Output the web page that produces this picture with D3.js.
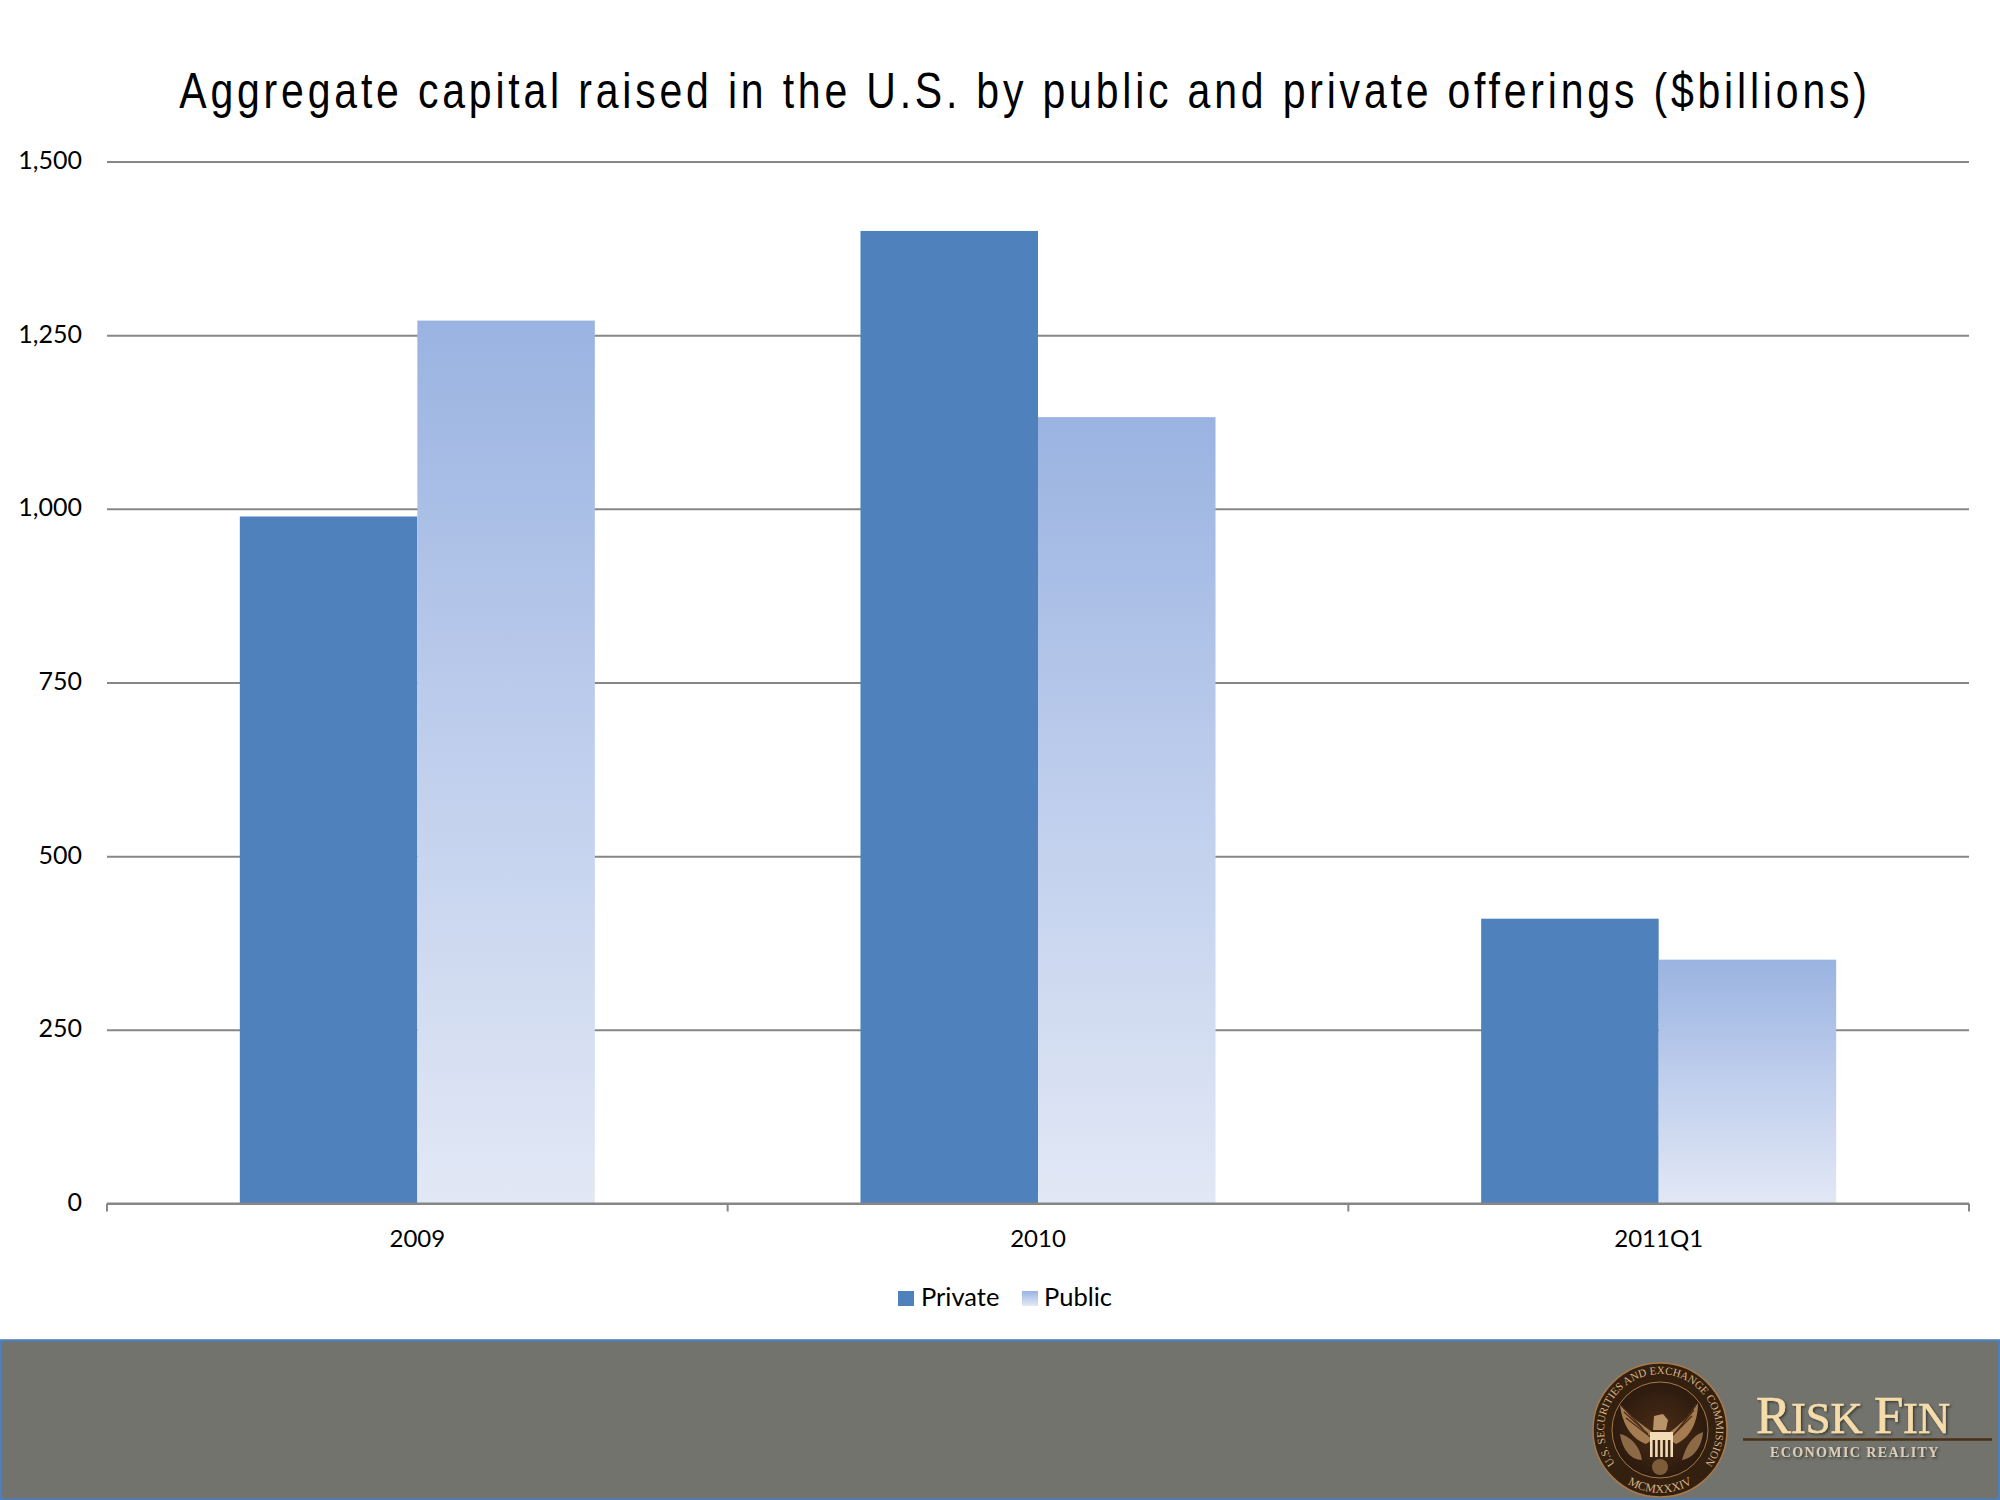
<!DOCTYPE html>
<html>
<head>
<meta charset="utf-8">
<script src="https://cdn.jsdelivr.net/npm/d3@7/dist/d3.min.js"></script>
<style>
    html, body { margin: 0; padding: 0; background: #fff; }
    svg { display: block; }
    .axisText { font-family: Lato, "Open Sans", sans-serif; font-size: 24px; fill: #000; }
</style>
</head>
<body>
<svg id="chart" width="2000" height="1500"></svg>
<script>
// values ($billions)
const categories = ["2009", "2010", "2011Q1"];
const seriesNames = ["Private", "Public"];
const privateValues = [989, 1400, 410];
const publicValues = [1271, 1132, 351];
const yTicks = [0, 250, 500, 750, 1000, 1250, 1500];
const titleText = "Aggregate capital raised in the U.S. by public and private offerings ($billions)";

const svg = d3.select("#chart");
const margin = {top: 161.5, right: 31, bottom: 296.5, left: 107};
const plotWidth = 2000 - margin.left - margin.right;
const plotHeight = 1500 - margin.top - margin.bottom;
const gridColor = "#868686";

// gradient for the public series, one copy per bar through the bounding box
const defs = svg.append("defs");
const publicGrad = defs.append("linearGradient")
    .attr("id", "publicGrad")
    .attr("x1", 0).attr("y1", 0).attr("x2", 0).attr("y2", 1);
publicGrad.append("stop").attr("offset", "0%").attr("stop-color", "#9ab3e1");
publicGrad.append("stop").attr("offset", "50%").attr("stop-color", "#c0cfed");
publicGrad.append("stop").attr("offset", "100%").attr("stop-color", "#e2e8f5");

const x0 = d3.scaleBand().domain(categories).range([0, plotWidth])
    .paddingInner(0.428).paddingOuter(0.214);
const x1 = d3.scaleBand().domain(seriesNames).range([0, x0.bandwidth()]);
const y = d3.scaleLinear().domain([0, 1500]).range([plotHeight, 0]);
const seriesFill = d3.scaleOrdinal().domain(seriesNames).range(["#4f81bd", "url(#publicGrad)"]);

// title is Arial Narrow in the original, so squeeze Liberation Sans sideways
svg.append("text")
    .attr("transform", "translate(1025,108) scale(0.82,1)")
    .attr("text-anchor", "middle")
    .style("font-family", '"Liberation Sans", sans-serif')
    .style("font-size", "50px")
    .style("letter-spacing", "4.64px")
    .style("fill", "#000")
    .text(titleText);

const plot = svg.append("g").attr("transform", "translate(" + margin.left + "," + margin.top + ")");

// gridlines + y labels
const yAxis = d3.axisLeft(y).tickValues(yTicks).tickSize(-plotWidth).tickPadding(25)
    .tickFormat(d3.format(","));
const yAxisG = plot.append("g").call(yAxis);
yAxisG.select(".domain").remove();
yAxisG.selectAll("line").attr("stroke", gridColor).attr("stroke-width", 2);
yAxisG.selectAll("text").attr("class", "axisText").attr("dy", "0.28em").style("font-size", "25px");

// bars
const privateRows = categories.map((c, i) => ({cat: c, name: "Private", value: privateValues[i]}));
const publicRows = categories.map((c, i) => ({cat: c, name: "Public", value: publicValues[i]}));
plot.selectAll("rect.bar")
    .data(privateRows.concat(publicRows))
    .enter().append("rect")
    .attr("class", "bar")
    .attr("x", d => x0(d.cat) + x1(d.name))
    .attr("y", d => y(d.value))
    .attr("width", x1.bandwidth())
    .attr("height", d => plotHeight - y(d.value))
    .attr("fill", d => seriesFill(d.name));

// x axis, ticks sit between the groups
const step = plotWidth / categories.length;
const xAxisG = plot.append("g").attr("transform", "translate(0," + plotHeight + ")")
    .call(d3.axisBottom(x0).tickSize(0).tickPadding(26));
xAxisG.select(".domain").attr("stroke", gridColor).attr("stroke-width", 2).attr("d", "M0,0H" + plotWidth);
xAxisG.selectAll("text").attr("class", "axisText");
xAxisG.selectAll("line.sep")
    .data(d3.range(categories.length + 1))
    .enter().append("line")
    .attr("class", "sep")
    .attr("x1", d => d * step).attr("x2", d => d * step)
    .attr("y1", 0).attr("y2", 8)
    .attr("stroke", gridColor).attr("stroke-width", 2);

// legend
const legendItems = [{name: "Private", sx: 898, tx: 921}, {name: "Public", sx: 1022, tx: 1044}];
const legend = svg.append("g");
legend.selectAll("rect")
    .data(legendItems).enter().append("rect")
    .attr("x", d => d.sx).attr("y", 1291)
    .attr("width", 16).attr("height", 15)
    .attr("fill", d => seriesFill(d.name));
legend.selectAll("text")
    .data(legendItems).enter().append("text")
    .attr("class", "axisText")
    .attr("x", d => d.tx).attr("y", 1306)
    .style("font-size", "25.5px")
    .text(d => d.name);

// footer band
svg.append("rect")
    .attr("x", 1).attr("y", 1340.5).attr("width", 1998).attr("height", 159)
    .attr("fill", "#72736d").attr("stroke", "#4f7db5").attr("stroke-width", 2.5);

// seal
const seal = svg.append("g").attr("transform", "translate(1660,1430)");
const sealGrad = defs.append("radialGradient").attr("id", "sealGrad");
sealGrad.append("stop").attr("offset", "0%").attr("stop-color", "#4a2c16");
sealGrad.append("stop").attr("offset", "100%").attr("stop-color", "#2c1a0e");
seal.append("circle").attr("r", 67).attr("fill", "#33200f").attr("stroke", "#a9794a").attr("stroke-width", 1.5);
seal.append("circle").attr("r", 48).attr("fill", "url(#sealGrad)").attr("stroke", "#a9794a").attr("stroke-width", 1);
defs.append("path").attr("id", "sealTop").attr("d", "M-36,43 A56,56 0 1 1 36,43");
defs.append("path").attr("id", "sealBottom").attr("d", "M-38,50 A63,63 0 0 0 38,50");
const sealText = seal.append("g").style("font-family", '"Liberation Serif", serif').style("fill", "#d9b283");
sealText.append("text").style("font-size", "11px")
    .append("textPath").attr("href", "#sealTop").attr("startOffset", "50%").attr("text-anchor", "middle")
    .text("U.S. SECURITIES AND EXCHANGE COMMISSION");
sealText.append("text").style("font-size", "12px")
    .append("textPath").attr("href", "#sealBottom").attr("startOffset", "50%").attr("text-anchor", "middle")
    .text("MCMXXXIV");
// eagle, rough shapes
seal.append("path").attr("d", "M-8,2 C-16,-4 -30,-14 -40,-25 C-38,-8 -30,8 -14,14 L-8,10 Z").attr("fill", "#a57c52");
seal.append("path").attr("d", "M10,2 C18,-4 30,-14 38,-27 C38,-8 30,8 16,14 L10,10 Z").attr("fill", "#a57c52");
// feather marks on the wings
seal.selectAll("line.feather").data(d3.range(-1, 2)).enter().append("line")
    .attr("class", "feather")
    .attr("x1", d => -12 + d * 5).attr("y1", d => 4 + d * 5)
    .attr("x2", d => -36 + d * 2).attr("y2", d => -18 + d * 6)
    .attr("stroke", "#4a2c16").attr("stroke-width", 1.2);
seal.selectAll("line.featherR").data(d3.range(-1, 2)).enter().append("line")
    .attr("class", "featherR")
    .attr("x1", d => 14 - d * 5).attr("y1", d => 4 + d * 5)
    .attr("x2", d => 34 - d * 2).attr("y2", d => -20 + d * 6)
    .attr("stroke", "#4a2c16").attr("stroke-width", 1.2);
seal.append("path").attr("d", "M-40,4 C-30,6 -20,16 -18,30 C-30,30 -38,18 -40,4 Z").attr("fill", "#8c6a45");
seal.append("path").attr("d", "M43,2 C32,6 26,16 22,30 C34,28 42,16 43,2 Z").attr("fill", "#8c6a45");
seal.append("path").attr("d", "M-7,0 L-6,-14 L3,-16 L8,-10 L6,0 Z").attr("fill", "#b89468");
seal.append("rect").attr("x", -10).attr("y", 2).attr("width", 23).attr("height", 8).attr("fill", "#f2dcb8");
seal.selectAll("rect.stripe").data(d3.range(5)).enter().append("rect")
    .attr("class", "stripe")
    .attr("x", d => -10 + d * 5.1).attr("y", 10).attr("width", 2.6).attr("height", 17).attr("fill", "#f2dcb8");
seal.append("circle").attr("cy", 37).attr("r", 8).attr("fill", "#7d5c3a");

// logo text
const shadow = defs.append("filter").attr("id", "logoShadow");
shadow.append("feDropShadow").attr("dx", 1.5).attr("dy", 1.5).attr("stdDeviation", 1)
    .attr("flood-color", "#3a3a36");
const logo = svg.append("g").style("font-family", '"Liberation Serif", serif');
const logoName = logo.append("text").attr("x", 1756).attr("y", 1433)
    .attr("filter", "url(#logoShadow)")
    .style("font-size", "52.5px").style("fill", "#f5dcaa")
    .style("stroke", "#f5dcaa").style("stroke-width", 0.6);
logoName.append("tspan").text("R");
logoName.append("tspan").style("font-size", "44.5px").text("ISK ");
logoName.append("tspan").text("F");
logoName.append("tspan").style("font-size", "44.5px").text("IN");
logo.append("line").attr("x1", 1743).attr("x2", 1992).attr("y1", 1439.5).attr("y2", 1439.5)
    .attr("stroke", "#4a2f14").attr("stroke-width", 2.5);
logo.append("text").attr("x", 1770).attr("y", 1457)
    .attr("filter", "url(#logoShadow)")
    .style("font-size", "14px").style("font-weight", "bold").style("letter-spacing", "1.4px").style("fill", "#d8cdb8")
    .text("ECONOMIC REALITY");
</script>
</body>
</html>
